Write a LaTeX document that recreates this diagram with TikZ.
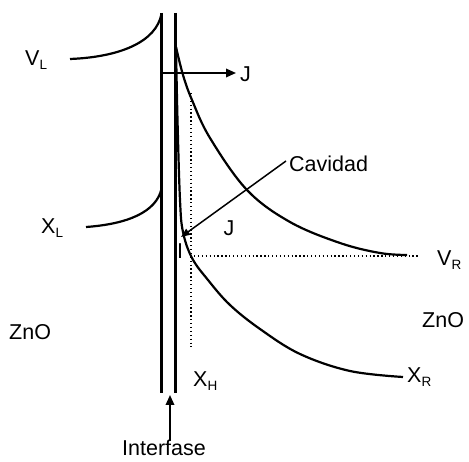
\documentclass[tikz,border=0pt]{standalone}
\usepackage{fontspec}
\setmainfont{Liberation Sans}
\usetikzlibrary{arrows.meta}
\tikzset{
  lbl/.style={inner sep=0pt, font=\fontsize{21.5}{24}\selectfont},
  wall/.style={line width=2.8pt},
  curve/.style={line width=2.2pt},
  dots/.style={line width=2pt, dash pattern=on 1.3pt off 2.6pt},
  arr/.style={line width=1.8pt, -{Triangle[length=10pt,width=8.5pt]}},
  thin/.style={line width=1.5pt},
}
\newcommand{\sbs}[1]{\raisebox{-4pt}{\fontsize{13.5}{14}\selectfont #1}}
\begin{document}
\begin{tikzpicture}[x=1pt,y=-1pt]
\useasboundingbox (0,0) rectangle (469,462);
% coordinates
\coordinate (Ltop) at (161.5,13);
\coordinate (Lbot) at (161.5,393);
\coordinate (Rtop) at (175.5,13);
\coordinate (Rbot) at (175.5,393);
\coordinate (VLs) at (70,59);
\coordinate (VLe) at (161.5,14);
\coordinate (XLs) at (86,227);
\coordinate (XLe) at (161.5,189);
\coordinate (P0) at (176,47);
\coordinate (Jstart) at (161.5,73);
\coordinate (Jend) at (236,73);
\coordinate (DVtop) at (191,93);
\coordinate (DVbot) at (191,347);
\coordinate (DHl) at (194,256);
\coordinate (DHr) at (420,256);
\coordinate (Cav) at (286,161);
\coordinate (CavTip) at (181,237);
\coordinate (IArrB) at (170,440);
\coordinate (IArrT) at (170,395);
% walls
\draw[wall] (Ltop) -- (Lbot);
\draw[wall] (Rtop) -- (Rbot);
% left curves
\draw[curve] (VLs) .. controls (120,57) and (156,42) .. (VLe);
\draw[curve] (XLs) .. controls (128,224) and (156,212) .. (XLe);
% right curves
\draw[curve] plot[smooth, tension=0.6] coordinates {(P0) (183,75) (192,100) (210,138) (247,190) (290,222) (340,243) (380,253) (407,255)};
\draw[curve] plot[smooth, tension=0.6] coordinates {(P0) (177.5,120) (180,200) (183,232) (192,258) (208,280) (230,305) (260,329) (300,354) (350,371) (403,377)};
% dotted lines
\draw[dots] (DVtop) -- (DVbot);
\draw[dots] (DHl) -- (DHr);
% arrows
\draw[arr] (Jstart) -- (Jend);
\draw[thin, -{Triangle[length=9pt,width=7pt]}] (Cav) -- (CavTip);
\draw[arr] (IArrB) -- (IArrT);
% labels
\node[lbl, anchor=west] (VL) at (25,60) {V\sbs{L}};
\node[lbl, anchor=west] (J1) at (240,74) {J};
\node[lbl, anchor=base west] (Cavidad) at (289,172) {Cavidad};
\node[lbl, anchor=west] (XL) at (41,228) {X\sbs{L}};
\node[lbl] (J2) at (229,228) {J};
\node[lbl] (I) at (180,251) {I};
\node[lbl, anchor=west] (VR) at (437,260) {V\sbs{R}};
\node[lbl, anchor=west] (ZnOR) at (422,320) {ZnO};
\node[lbl, anchor=west] (ZnOL) at (9,332) {ZnO};
\node[lbl, anchor=west] (XH) at (193,381) {X\sbs{H}};
\node[lbl, anchor=west] (XR) at (407,377) {X\sbs{R}};
\node[lbl, anchor=base] (Interfase) at (164,456) {Interfase};
\end{tikzpicture}
\end{document}
